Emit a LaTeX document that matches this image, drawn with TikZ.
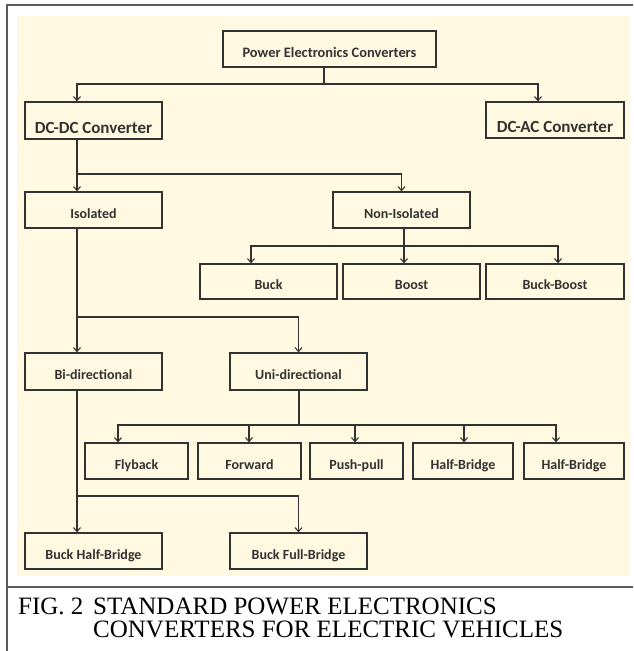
\documentclass[tikz,border=0pt]{standalone}
\usepackage{fontspec}
\setmainfont{Liberation Serif}
\newfontfamily\boxfont{Carlito}
\usetikzlibrary{arrows.meta}
\definecolor{cream}{RGB}{254,249,224}
\definecolor{ink}{RGB}{50,50,50}
\definecolor{framegray}{RGB}{90,90,90}
\tikzset{
  box/.style={draw=ink, line width=1.3pt, rectangle, inner sep=0pt, text=ink,
    font=\boxfont\bfseries\fontsize{14}{16}\selectfont, text height=16pt, text depth=0pt},
  bigbox/.style={box, font=\boxfont\bfseries\fontsize{17}{19}\selectfont, text height=25pt, text depth=0pt},
  conn/.style={draw=ink, line width=1.3pt},
  arr/.style={conn, -{Straight Barb[length=4pt,width=7pt,line width=1.1pt]}},
  captext/.style={anchor=base west, inner sep=0pt, font=\fontsize{25}{28}\selectfont, text=black},
}
\begin{document}
\begin{tikzpicture}[x=1pt,y=-1pt]
\useasboundingbox (0,0) rectangle (633,651);
% background and frame
\fill[cream] (17,16) rectangle (630,576);
\draw[framegray, line width=1.8pt] (7,651) -- (7,5) -- (633,5);
\draw[framegray, line width=1.5pt] (7,587) -- (633,587);

% nodes
\node[box, minimum width=213pt, minimum height=36pt, font=\boxfont\bfseries\fontsize{14.4}{16}\selectfont] (pec) at (329.5,49) {Power Electronics Converters};
\node[bigbox, minimum width=137pt, minimum height=37pt] (dcdc) at (93.5,120.5) {DC-DC Converter};
\node[bigbox, minimum width=138pt, minimum height=36pt] (dcac) at (555,120) {DC-AC Converter};
\node[box, minimum width=137pt, minimum height=36pt] (iso) at (93.5,210) {Isolated};
\node[box, minimum width=137pt, minimum height=36pt] (noniso) at (401.5,210) {Non-Isolated};
\node[box, minimum width=137pt, minimum height=35pt] (buck) at (268.5,281.5) {Buck};
\node[box, minimum width=137pt, minimum height=35pt] (boost) at (411.5,281.5) {Boost};
\node[box, minimum width=138pt, minimum height=35pt] (bb) at (555,281.5) {Buck-Boost};
\node[box, minimum width=137pt, minimum height=37pt] (bidir) at (93.5,371.5) {Bi-directional};
\node[box, minimum width=137pt, minimum height=37pt] (unidir) at (298.5,371.5) {Uni-directional};
\node[box, minimum width=103pt, minimum height=36pt] (fly) at (136.5,461) {Flyback};
\node[box, minimum width=103pt, minimum height=36pt] (fwd) at (249.5,461) {Forward};
\node[box, minimum width=93pt, minimum height=36pt] (pp) at (356.5,461) {Push-pull};
\node[box, minimum width=100pt, minimum height=36pt] (hb1) at (463,461) {Half-Bridge};
\node[box, minimum width=100pt, minimum height=36pt] (hb2) at (574,461) {Half-Bridge};
\node[box, minimum width=137pt, minimum height=36pt] (bhb) at (93.5,551) {Buck Half-Bridge};
\node[box, minimum width=137pt, minimum height=36pt] (bfb) at (298.5,551) {Buck Full-Bridge};

% junction coordinates
\coordinate (j1) at (324,84);
\coordinate (j2) at (77,174);
\coordinate (j3) at (404,246);
\coordinate (j4) at (77,317);
\coordinate (j5) at (299,425);
\coordinate (j6) at (77,496);

% connectors
\draw[conn] (pec.south -| j1) -- (j1);
\draw[arr] (j1) -| ([xshift=-16.5pt]dcdc.north);
\draw[arr] (j1) -| ([xshift=-17pt]dcac.north);

\draw[conn] (dcdc.south -| j2) -- (j2);
\draw[arr] (j2) -- (iso.north -| j2);
\draw[arr] (j2) -| (noniso.north);

\draw[conn] (noniso.south -| j3) -- (j3);
\draw[arr] (j3) -| ([xshift=-17.5pt]buck.north);
\draw[arr] (j3) -- (boost.north -| j3);
\draw[arr] (j3) -| ([xshift=3pt]bb.north);

\draw[conn] (iso.south -| j4) -- (j4);
\draw[arr] (j4) -- (bidir.north -| j4);
\draw[arr] (j4) -| (unidir.north);

\draw[conn] (unidir.south -| j5) -- (j5);
\draw[arr] (j5) -| ([xshift=-18.5pt]fly.north);
\draw[arr] (j5) -| ([xshift=-0.5pt]fwd.north);
\draw[arr] (j5) -| ([xshift=-1.5pt]pp.north);
\draw[arr] (j5) -| ([xshift=1pt]hb1.north);
\draw[arr] (j5) -| ([xshift=-18pt]hb2.north);

\draw[conn] (bidir.south -| j6) -- (j6);
\draw[arr] (j6) -- (bhb.north -| j6);
\draw[arr] (j6) -| (bfb.north);

% caption
\node[captext] (fig) at (18,614) {FIG. 2};
\node[captext] (cap1) at (93,614) {STANDARD POWER ELECTRONICS};
\node[captext] (cap2) at (93,637) {CONVERTERS FOR ELECTRIC VEHICLES};
\end{tikzpicture}
\end{document}
